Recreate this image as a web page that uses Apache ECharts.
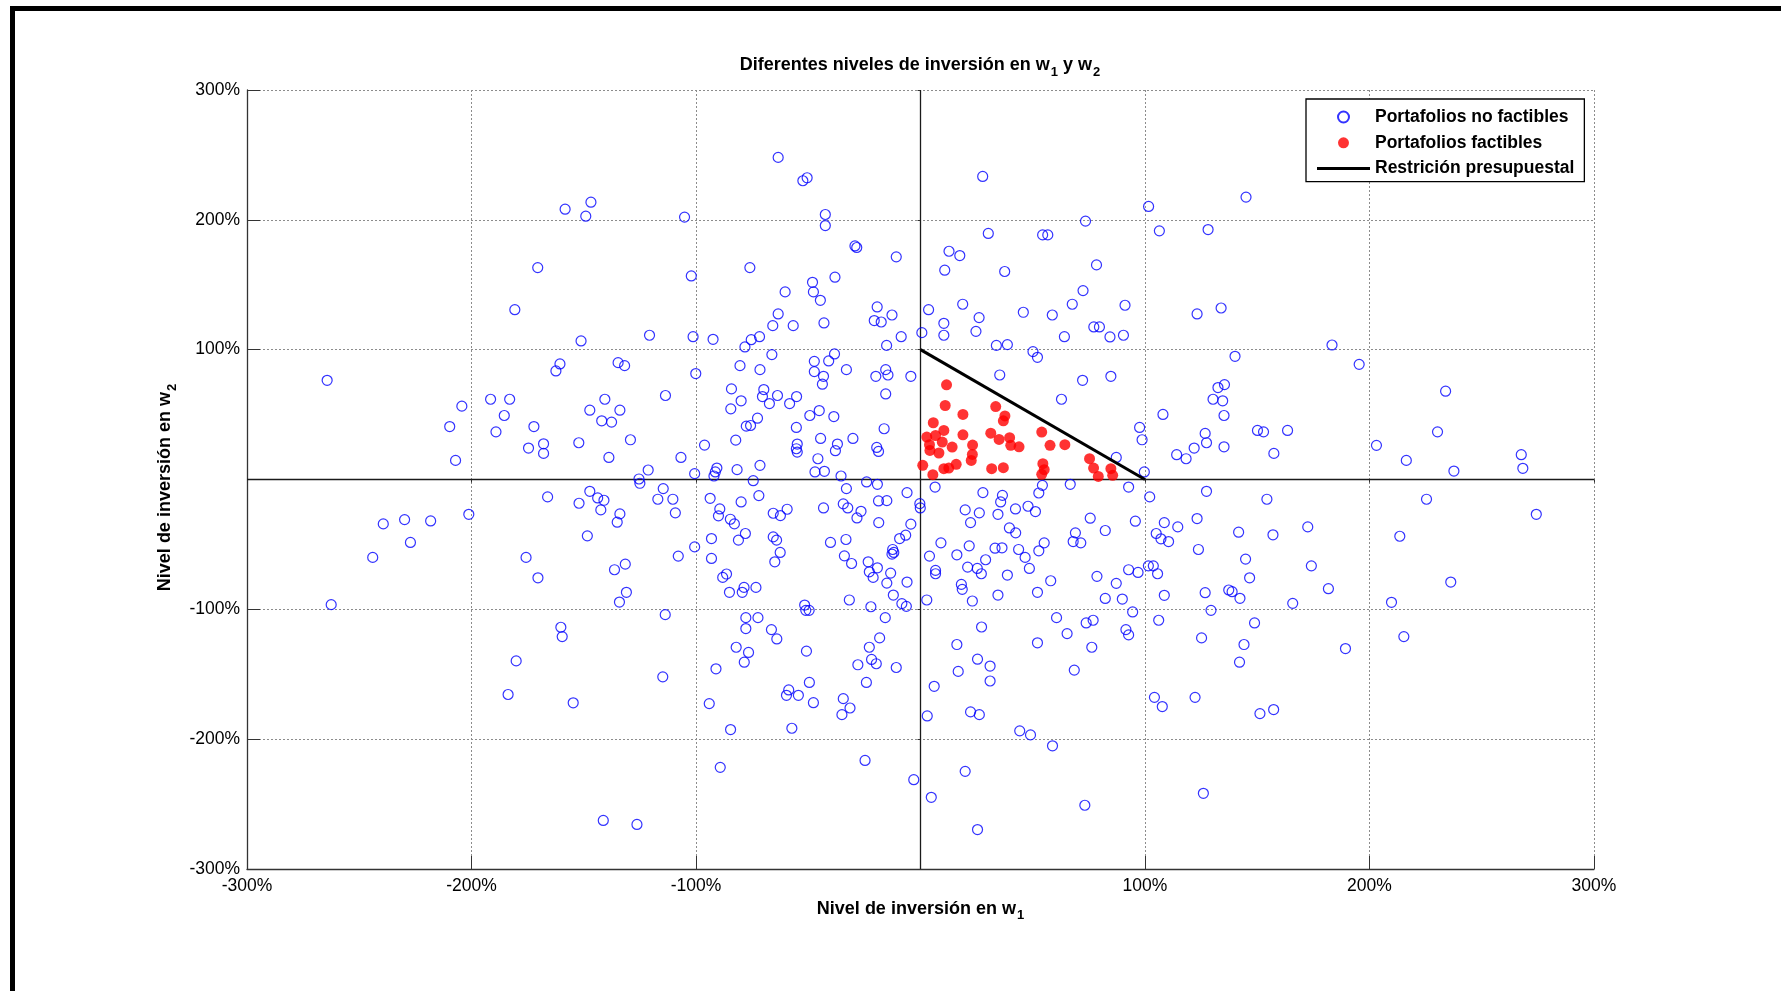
<!DOCTYPE html>
<html>
<head>
<meta charset="utf-8">
<title>Diferentes niveles de inversión</title>
<script src="https://cdn.jsdelivr.net/npm/echarts@6/dist/echarts.min.js"></script>
<style>
  html, body { margin: 0; padding: 0; background: #fff; }
  #chart { width: 1781px; height: 991px; }
</style>
</head>
<body>
<div id="chart"></div>
<script>
// Portafolios (w1, w2) que no cumplen la restricción presupuestal
const noFactibles = [
  [-1.583,2.082],[-1.468,2.136],[-1.491,2.028],[-1.051,2.021],[-1.705,1.632],[-1.021,1.568],[-1.807,1.308],[-1.512,1.067],[-1.207,1.111],[-1.013,1.100],
  [-0.634,2.481],[-0.524,2.301],[-0.505,2.324],[-0.424,2.041],[-0.424,1.956],[-0.292,1.799],[-0.284,1.787],[-0.108,1.715],[-0.760,1.632],[-0.481,1.519],
  [-0.477,1.445],[-0.446,1.380],[-0.381,1.558],[-0.603,1.445],[-0.634,1.275],[-0.658,1.185],[-0.567,1.185],[-0.430,1.206],[-0.193,1.329],[-0.206,1.224],
  [-0.175,1.213],[-0.127,1.267],[-0.086,1.100],[-0.151,1.033],[-0.924,1.080],[-0.782,1.021],[-0.754,1.077],[-0.717,1.100],[0.006,1.131],
  [0.277,2.334],[0.735,1.990],[1.016,2.103],[0.302,1.895],[0.544,1.884],[0.567,1.884],[0.127,1.758],[0.175,1.725],[0.784,1.653],[0.108,1.612],
  [0.375,1.602],[0.724,1.455],[0.188,1.350],[0.676,1.350],[0.911,1.342],[0.036,1.308],[0.261,1.247],[0.458,1.288],[0.587,1.267],[0.104,1.203],
  [0.104,1.111],[0.247,1.141],[0.641,1.100],[0.772,1.175],[0.797,1.175],[0.844,1.098],[0.904,1.111],[0.338,1.033],[0.387,1.039],
  [1.450,2.175],[1.064,1.915],[1.281,1.925],[1.232,1.275],[1.339,1.321],[1.833,1.036],
  [-2.643,0.764],[-2.043,0.565],[-2.097,0.408],[-2.071,0.147],[-1.915,0.618],[-1.830,0.618],[-1.854,0.493],[-1.891,0.367],[-1.722,0.408],[-1.746,0.242],
  [-1.679,0.275],[-1.679,0.201],[-1.624,0.836],[-1.606,0.890],[-1.347,0.900],[-1.318,0.877],[-1.001,0.816],[-1.136,0.647],[-1.406,0.618],[-1.473,0.534],
  [-1.339,0.534],[-1.420,0.452],[-1.376,0.442],[-1.292,0.306],[-1.522,0.283],[-1.388,0.170],[-1.067,0.170],[-1.213,0.073],[-1.006,0.045],[-1.254,0.004],
  [-1.250,-0.029],[-1.146,-0.070],[-1.170,-0.152],[-1.103,-0.152],[-1.092,-0.257],[-1.473,-0.091],[-1.438,-0.142],[-1.410,-0.160],[-1.424,-0.234],[-1.521,-0.183],
  [-1.339,-0.265],[-1.351,-0.329],[-1.484,-0.434],[-1.661,-0.134],[-1.757,-0.600],[-1.704,-0.757],[-1.315,-0.652],[-1.363,-0.695],[-1.310,-0.869],[-1.341,-0.944],
  [-1.079,-0.590],[-1.006,-0.519],[-2.012,-0.268],[-2.182,-0.319],[-2.298,-0.309],[-2.393,-0.342],[-2.272,-0.485],[-2.440,-0.600],[-2.625,-0.964],
  [-0.662,0.962],[-0.383,0.967],[-0.804,0.877],[-0.715,0.846],[-0.473,0.910],[-0.409,0.913],[-0.473,0.831],[-0.432,0.795],[-0.437,0.734],[-0.330,0.846],
  [-0.199,0.795],[-0.155,0.846],[-0.145,0.805],[-0.043,0.795],[-0.155,0.659],[-0.842,0.698],[-0.799,0.606],[-0.845,0.544],[-0.698,0.693],[-0.704,0.639],
  [-0.673,0.585],[-0.637,0.647],[-0.583,0.585],[-0.552,0.639],[-0.726,0.472],[-0.757,0.416],[-0.776,0.411],[-0.823,0.303],[-0.962,0.265],[-0.553,0.401],
  [-0.493,0.493],[-0.451,0.531],[-0.386,0.485],[-0.445,0.316],[-0.549,0.273],[-0.553,0.237],[-0.549,0.211],[-0.370,0.273],[-0.379,0.222],[-0.301,0.316],
  [-0.162,0.391],[-0.195,0.247],[-0.187,0.216],[-0.457,0.160],[-0.715,0.109],[-0.817,0.076],[-0.907,0.088],[-0.914,0.058],[-0.920,0.027],[-0.470,0.058],
  [-0.428,0.063],[-0.354,0.027],[-0.745,-0.009],[-0.240,-0.019],[-0.192,-0.037],[-0.330,-0.070],[-0.720,-0.124],[-0.937,-0.145],[-0.799,-0.173],[-0.894,-0.227],
  [-0.900,-0.280],[-0.847,-0.306],[-0.829,-0.342],[-0.656,-0.260],[-0.624,-0.278],[-0.594,-0.229],[-0.432,-0.219],[-0.344,-0.188],[-0.324,-0.219],[-0.265,-0.245],
  [-0.283,-0.296],[-0.187,-0.165],[-0.150,-0.163],[-0.060,-0.101],[-0.186,-0.332],[-0.043,-0.344],[-0.003,-0.186],[-0.001,-0.219],[-0.780,-0.416],[-0.811,-0.467],
  [-0.931,-0.455],[-0.656,-0.442],[-0.641,-0.467],[-0.625,-0.562],[-0.649,-0.634],[-0.401,-0.485],[-0.332,-0.462],[-0.339,-0.588],[-0.307,-0.647],[-0.093,-0.455],
  [-0.066,-0.429],[-0.124,-0.539],[-0.119,-0.562],[-0.127,-0.575],[-0.931,-0.608],[-0.233,-0.634],[-0.228,-0.711],[-0.211,-0.754],[-0.192,-0.680],[-0.133,-0.721],
  [-0.150,-0.798],[-0.060,-0.790],[-0.121,-0.890],[-0.083,-0.956],[-0.063,-0.977],[-0.881,-0.754],[-0.864,-0.728],[-0.851,-0.869],[-0.794,-0.869],[-0.786,-0.831],
  [-0.733,-0.831],[-0.516,-0.967],[-0.317,-0.928],[-0.221,-0.980],
  [0.501,0.985],[0.521,0.941],[0.353,0.805],[0.722,0.764],[0.848,0.795],[0.628,0.618],[0.976,0.401],[0.987,0.306],[0.872,0.170],[0.997,0.058],
  [0.667,-0.037],[0.927,-0.058],[0.065,-0.058],[0.278,-0.101],[0.365,-0.122],[0.357,-0.173],[0.345,-0.268],[0.423,-0.227],[0.479,-0.206],[0.512,-0.247],
  [0.527,-0.104],[0.543,-0.045],[0.199,-0.234],[0.262,-0.257],[0.223,-0.332],[0.396,-0.373],[0.424,-0.411],[0.756,-0.298],[0.823,-0.393],[0.690,-0.411],
  [0.680,-0.478],[0.714,-0.488],[0.957,-0.321],[0.091,-0.488],[0.040,-0.590],[0.162,-0.580],[0.217,-0.511],[0.332,-0.529],[0.363,-0.526],[0.437,-0.539],
  [0.466,-0.600],[0.485,-0.685],[0.527,-0.549],[0.551,-0.488],[0.290,-0.618],[0.210,-0.675],[0.253,-0.685],[0.271,-0.726],[0.067,-0.700],[0.067,-0.726],
  [0.387,-0.736],[0.182,-0.808],[0.186,-0.846],[0.231,-0.936],[0.028,-0.928],[0.345,-0.890],[0.521,-0.869],[0.580,-0.780],[0.786,-0.746],[0.872,-0.800],
  [0.823,-0.916],[0.899,-0.921],[0.927,-0.695],[0.969,-0.716],
  [1.401,0.949],[1.954,0.887],[2.339,0.680],[1.080,0.501],[1.325,0.708],[1.354,0.731],[1.303,0.618],[1.346,0.606],[1.352,0.493],[1.268,0.355],
  [1.274,0.283],[1.219,0.242],[1.141,0.191],[1.183,0.160],[1.352,0.252],[1.501,0.378],[1.528,0.367],[1.635,0.378],[1.574,0.201],[2.031,0.263],
  [2.164,0.147],[2.303,0.367],[2.376,0.065],[2.676,0.191],[2.683,0.086],
  [1.021,-0.134],[1.274,-0.091],[1.543,-0.152],[2.254,-0.152],[2.743,-0.268],[1.086,-0.332],[1.146,-0.365],[1.232,-0.301],[1.050,-0.416],[1.071,-0.457],
  [1.105,-0.478],[1.238,-0.539],[1.417,-0.406],[1.570,-0.426],[1.725,-0.365],[2.135,-0.437],[1.448,-0.613],[1.741,-0.665],[1.015,-0.665],[1.037,-0.665],
  [1.056,-0.726],[1.466,-0.757],[1.817,-0.841],[2.362,-0.790],[1.086,-0.892],[1.268,-0.872],[1.373,-0.851],[1.388,-0.864],[1.423,-0.915],[1.658,-0.954],
  [2.098,-0.946],
  [-1.137,-1.041],[-1.602,-1.138],[-1.596,-1.210],[-1.801,-1.397],[-1.837,-1.656],[-1.547,-1.720],[-1.148,-1.520],[-1.413,-2.626],[-1.263,-2.657],
  [-0.511,-1.008],[-0.496,-1.008],[-0.778,-1.064],[-0.724,-1.064],[-0.778,-1.148],[-0.664,-1.156],[-0.640,-1.228],[-0.821,-1.292],[-0.766,-1.332],[-0.785,-1.407],
  [-0.911,-1.458],[-0.508,-1.322],[-0.495,-1.563],[-0.587,-1.621],[-0.597,-1.662],[-0.544,-1.662],[-0.477,-1.719],[-0.941,-1.726],[-0.846,-1.926],[-0.573,-1.916],
  [-0.344,-1.688],[-0.314,-1.760],[-0.350,-1.811],[-0.241,-1.563],[-0.279,-1.427],[-0.228,-1.292],[-0.182,-1.220],[-0.157,-1.064],[-0.218,-1.386],[-0.197,-1.419],
  [-0.108,-1.448],[-0.892,-2.217],[-0.247,-2.164],[-0.030,-2.312],
  [0.606,-1.064],[0.738,-1.105],[0.769,-1.084],[0.915,-1.156],[0.927,-1.197],[0.945,-1.020],[0.272,-1.136],[0.162,-1.271],[0.653,-1.187],[0.521,-1.258],
  [0.763,-1.292],[0.254,-1.384],[0.310,-1.437],[0.168,-1.478],[0.310,-1.552],[0.685,-1.468],[0.061,-1.593],[0.030,-1.821],[0.223,-1.790],[0.262,-1.811],
  [0.442,-1.936],[0.490,-1.967],[0.588,-2.051],[0.199,-2.248],[0.048,-2.448],[0.732,-2.509],[0.254,-2.696],
  [1.294,-1.008],[1.061,-1.084],[1.488,-1.105],[1.252,-1.220],[1.441,-1.271],[1.893,-1.302],[2.153,-1.210],[1.421,-1.407],[1.042,-1.678],[1.077,-1.749],
  [1.223,-1.678],[1.512,-1.803],[1.573,-1.772],[1.260,-2.417]
];

// Portafolios con w1 >= 0, w2 >= 0 y w1 + w2 <= 1
const factibles = [
  [0.116,0.729],[0.110,0.570],[0.189,0.501],[0.335,0.562],[0.376,0.490],[0.369,0.452],[0.057,0.437],[0.104,0.378],[0.028,0.327],[0.067,0.339],
  [0.189,0.344],[0.313,0.357],[0.350,0.309],[0.397,0.322],[0.402,0.263],[0.439,0.252],[0.540,0.365],[0.577,0.263],[0.643,0.268],[0.040,0.268],
  [0.097,0.288],[0.141,0.250],[0.042,0.224],[0.082,0.204],[0.232,0.265],[0.231,0.193],[0.226,0.147],[0.010,0.109],[0.055,0.037],[0.104,0.083],
  [0.126,0.088],[0.159,0.117],[0.317,0.083],[0.369,0.091],[0.545,0.122],[0.551,0.076],[0.540,0.040],[0.753,0.160],[0.771,0.088],[0.792,0.024],
  [0.848,0.083],[0.856,0.032]
];

// Restricción presupuestal: w1 + w2 = 1 con w1, w2 >= 0
const restriccion = [[0, 1], [1, 0]];

// Ejes de referencia en w1 = 0 y w2 = 0
const ejeHorizontal = [[-3, 0], [3, 0]];
const ejeVertical = [[0, -3], [0, 3]];

// Marcas de los ejes (fracciones; se muestran en %)
const axisMin = -3, axisMax = 3, axisStep = 1;

const seriesNames = ['Portafolios no factibles', 'Portafolios factibles', 'Restrición presupuestal'];

const FONT = "'Liberation Sans', Arial, Helvetica, sans-serif";
const pct = v => (Math.abs(v) < 1e-9 ? '' : Math.round(v * 100) + '%');

// texto en negrita con subíndice (w1, w2)
const subRich = {
  a: { fontFamily: FONT, fontSize: 18, fontWeight: 'bold', color: '#000' },
  s: { fontFamily: FONT, fontSize: 13, fontWeight: 'bold', color: '#000', padding: [14, 0, 0, 1] }
};

const chart = echarts.init(document.getElementById('chart'), null, { renderer: 'canvas' });

const gridLine = { show: true, lineStyle: { color: '#8c8c8c', width: 1, type: [2, 2] } };

const option = {
  animation: false,
  backgroundColor: '#ffffff',
  textStyle: { fontFamily: FONT },
  title: {
    text: '{a|Diferentes niveles de inversión en w}{s|1}{a| y w}{s|2}',
    left: 920,
    textAlign: 'center',
    top: 52,
    padding: 0,
    textStyle: { rich: subRich }
  },
  legend: {
    data: [
      { name: seriesNames[0] },
      { name: seriesNames[1] },
      { name: seriesNames[2], icon: 'path://M0 0H53V3H0Z' }
    ],
    orient: 'vertical',
    left: 1306,
    top: 99,
    itemWidth: 53,
    itemHeight: 11,
    itemGap: 7.8,
    padding: [9, 10, 4, 11],
    borderColor: '#000',
    borderWidth: 1.3,
    backgroundColor: '#fff',
    selectedMode: false,
    textStyle: { fontFamily: FONT, fontSize: 17.5, fontWeight: 'bold', color: '#000', lineHeight: 17 }
  },
  grid: { left: 247, top: 90, width: 1347, height: 779, containLabel: false },
  xAxis: [
    {
      type: 'value', min: axisMin, max: axisMax, interval: axisStep, position: 'bottom',
      name: '{a|Nivel de inversión en w}{s|1}',
      nameLocation: 'middle', nameGap: 24,
      nameTextStyle: { rich: subRich },
      axisLine: { show: true, onZero: false, lineStyle: { color: '#333', width: 1.3 } },
      axisTick: { show: true, inside: true, length: 13, lineStyle: { color: '#333', width: 1 } },
      axisLabel: { show: true, margin: 8, fontFamily: FONT, fontSize: 17.5, color: '#000', formatter: pct, showMinLabel: true, showMaxLabel: true },
      splitLine: gridLine
    },
    {
      type: 'value', min: axisMin, max: axisMax, interval: axisStep, position: 'top',
      axisLine: { show: false },
      axisTick: { show: true, inside: true, length: 3, lineStyle: { color: '#333', width: 1 } },
      axisLabel: { show: false },
      splitLine: { show: false }
    }
  ],
  yAxis: [
    {
      type: 'value', min: axisMin, max: axisMax, interval: axisStep, position: 'left',
      name: '{a|Nivel de inversión en w}{s|2}',
      nameLocation: 'middle', nameGap: 68, nameRotate: 90,
      nameTextStyle: { rich: subRich, padding: [0, 16, 0, 0] },
      axisLine: { show: true, onZero: false, lineStyle: { color: '#333', width: 1.3 } },
      axisTick: { show: true, inside: true, length: 13, lineStyle: { color: '#333', width: 1 } },
      axisLabel: { show: true, margin: 7, fontFamily: FONT, fontSize: 17.5, color: '#000', formatter: pct, showMinLabel: true, showMaxLabel: true },
      splitLine: gridLine
    },
    {
      type: 'value', min: axisMin, max: axisMax, interval: axisStep, position: 'right',
      axisLine: { show: false },
      axisTick: { show: true, inside: true, length: 3, lineStyle: { color: '#333', width: 1 } },
      axisLabel: { show: false },
      splitLine: { show: false }
    }
  ],
  graphic: [
    // marco negro de la figura
    { type: 'rect', silent: true, z: 100, shape: { x: 10, y: 6, width: 5, height: 985 }, style: { fill: '#000' } },
    { type: 'rect', silent: true, z: 100, shape: { x: 10, y: 6, width: 1771, height: 5 }, style: { fill: '#000' } }
  ],
  series: [
    {
      name: 'ejeH', type: 'line', data: ejeHorizontal, symbol: 'none', silent: true, z: 1,
      lineStyle: { color: '#1a1a1a', width: 1.3 }
    },
    {
      name: 'ejeV', type: 'line', data: ejeVertical, symbol: 'none', silent: true, z: 1,
      lineStyle: { color: '#1a1a1a', width: 1.3 }
    },
    {
      name: seriesNames[0], type: 'scatter', data: noFactibles, symbol: 'circle', symbolSize: 10, z: 3,
      itemStyle: { color: 'rgba(255,255,255,0)', borderColor: '#0000ff', borderWidth: 1.2 }
    },
    {
      name: seriesNames[1], type: 'scatter', data: factibles, symbol: 'circle', symbolSize: 11, z: 4,
      itemStyle: { color: '#ff0000' }
    },
    {
      name: seriesNames[2], type: 'line', data: restriccion, symbol: 'none', z: 5,
      itemStyle: { color: '#000' },
      lineStyle: { color: '#000', width: 3 }
    }
  ]
};

chart.setOption(option);
</script>
</body>
</html>
